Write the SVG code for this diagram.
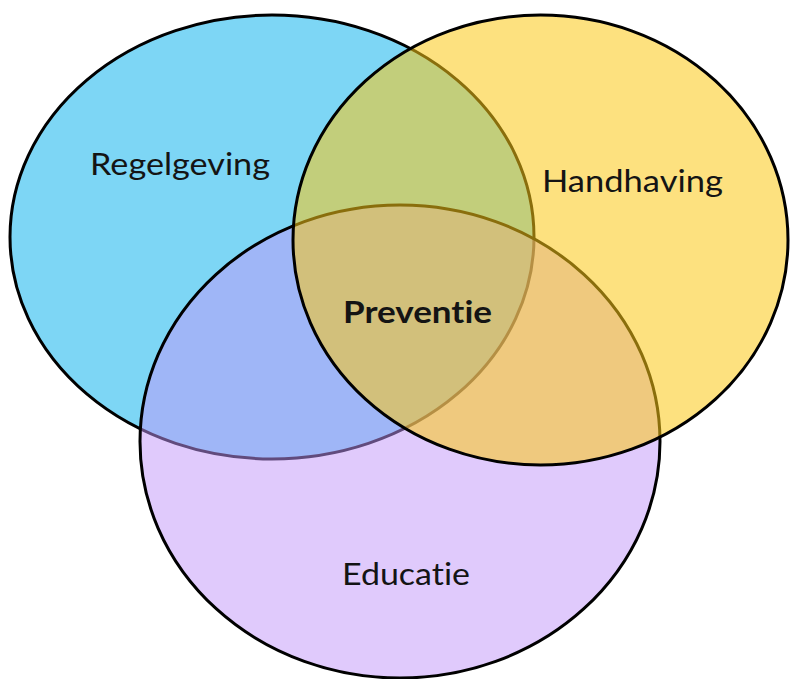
<svg xmlns="http://www.w3.org/2000/svg" width="790" height="679" viewBox="0 0 790 679">
<style>
.ring{stroke:#000;stroke-width:3}
.lbl{font-family:Lato,"Open Sans","Liberation Sans",sans-serif;font-size:31px;fill:#141414;font-variant-ligatures:none}
.bold{font-weight:bold;font-size:30px}
</style>
<rect width="790" height="679" fill="#fff"/>
<g id="regelgeving">
<ellipse class="ring" cx="272" cy="237" rx="262" ry="222" fill="#7DD6F5"/>
</g>
<g id="educatie">
<ellipse class="ring" cx="400" cy="441.5" rx="260" ry="236.5" fill="#C195F9" fill-opacity="0.5"/>
</g>
<g id="handhaving">
<ellipse class="ring" cx="540.5" cy="240" rx="247.5" ry="225" fill="#FBC816" fill-opacity="0.55"/>
</g>
<g id="connectors"></g>
<g id="labels">
<text class="lbl" x="90" y="175" textLength="180" lengthAdjust="spacingAndGlyphs">Regelgeving</text>
<text class="lbl" x="542" y="192" textLength="181" lengthAdjust="spacingAndGlyphs">Handhaving</text>
<text class="lbl" x="342" y="585" textLength="128" lengthAdjust="spacingAndGlyphs">Educatie</text>
<text class="lbl bold" x="343" y="323" textLength="149" lengthAdjust="spacingAndGlyphs">Preventie</text>
</g>
</svg>
